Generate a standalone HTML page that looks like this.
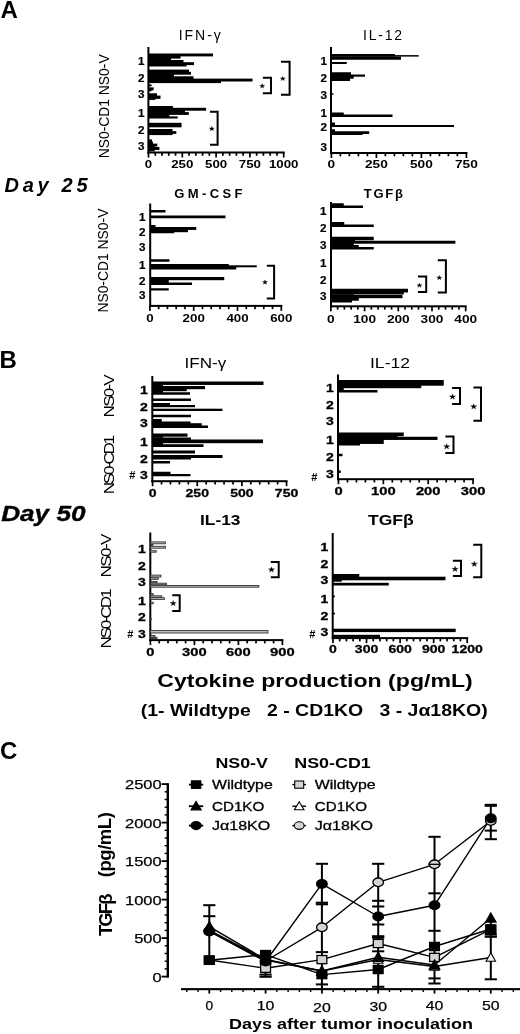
<!DOCTYPE html>
<html><head><meta charset="utf-8"><title>Figure</title>
<style>
html,body{margin:0;padding:0;background:#fff;}
body{width:520px;height:1034px;overflow:hidden;font-family:"Liberation Sans",sans-serif;}
svg{display:block;font-family:"Liberation Sans",sans-serif;filter:grayscale(100%);}
</style></head><body>
<svg width="520" height="1034" viewBox="0 0 520 1034">
<rect width="520" height="1034" fill="#fff"/>

<text x="0.40" y="18.10" font-size="24" font-weight="bold" text-anchor="start" fill="#000">A</text>
<text x="-0.50" y="368.00" font-size="24" font-weight="bold" text-anchor="start" fill="#000">B</text>
<text x="0.10" y="759.20" font-size="24" font-weight="bold" text-anchor="start" fill="#000">C</text>
<text x="4.50" y="191.80" font-size="20" font-weight="bold" text-anchor="start" fill="#000" font-style="italic" textLength="83.00" lengthAdjust="spacing">Day 25</text>
<text x="1.20" y="520.90" font-size="21.5" font-weight="bold" text-anchor="start" fill="#000" font-style="italic" textLength="84.30" lengthAdjust="spacingAndGlyphs" stroke="#000" stroke-width="0.35">Day 50</text>
<text x="108.90" y="158.30" font-size="15" font-weight="normal" text-anchor="start" fill="#000" textLength="104.00" lengthAdjust="spacingAndGlyphs" transform="rotate(-90 108.90 158.30)">NS0-CD1 NS0-V</text>
<text x="108.40" y="312.60" font-size="15" font-weight="normal" text-anchor="start" fill="#000" textLength="104.00" lengthAdjust="spacingAndGlyphs" transform="rotate(-90 108.40 312.60)">NS0-CD1 NS0-V</text>
<g transform="translate(113.90 417.40) rotate(-90) scale(1.13 1)"><text x="0" y="0" font-size="15.2" text-anchor="start" textLength="38.23" lengthAdjust="spacing">NS0-V</text></g>
<g transform="translate(113.90 494.20) rotate(-90) scale(1.13 1)"><text x="0" y="0" font-size="15.2" text-anchor="start" textLength="52.39" lengthAdjust="spacing">NS0-CD1</text></g>
<g transform="translate(111.00 577.40) rotate(-90) scale(1.13 1)"><text x="0" y="0" font-size="15.2" text-anchor="start" textLength="38.76" lengthAdjust="spacing">NS0-V</text></g>
<g transform="translate(111.00 648.60) rotate(-90) scale(1.13 1)"><text x="0" y="0" font-size="15.2" text-anchor="start" textLength="53.19" lengthAdjust="spacing">NS0-CD1</text></g>
<text x="141.20" y="64.56" font-size="11" font-weight="bold" text-anchor="middle" fill="#000" textLength="6.50" lengthAdjust="spacingAndGlyphs" stroke="#000" stroke-width="0.2">1</text>
<text x="141.20" y="81.66" font-size="11" font-weight="bold" text-anchor="middle" fill="#000" textLength="6.50" lengthAdjust="spacingAndGlyphs" stroke="#000" stroke-width="0.2">2</text>
<text x="141.20" y="97.96" font-size="11" font-weight="bold" text-anchor="middle" fill="#000" textLength="6.50" lengthAdjust="spacingAndGlyphs" stroke="#000" stroke-width="0.2">3</text>
<text x="141.20" y="116.96" font-size="11" font-weight="bold" text-anchor="middle" fill="#000" textLength="6.50" lengthAdjust="spacingAndGlyphs" stroke="#000" stroke-width="0.2">1</text>
<text x="141.20" y="133.96" font-size="11" font-weight="bold" text-anchor="middle" fill="#000" textLength="6.50" lengthAdjust="spacingAndGlyphs" stroke="#000" stroke-width="0.2">2</text>
<text x="141.20" y="150.26" font-size="11" font-weight="bold" text-anchor="middle" fill="#000" textLength="6.50" lengthAdjust="spacingAndGlyphs" stroke="#000" stroke-width="0.2">3</text>
<text x="323.80" y="64.86" font-size="11" font-weight="bold" text-anchor="middle" fill="#000" textLength="6.50" lengthAdjust="spacingAndGlyphs" stroke="#000" stroke-width="0.2">1</text>
<text x="323.80" y="82.46" font-size="11" font-weight="bold" text-anchor="middle" fill="#000" textLength="6.50" lengthAdjust="spacingAndGlyphs" stroke="#000" stroke-width="0.2">2</text>
<text x="323.80" y="98.56" font-size="11" font-weight="bold" text-anchor="middle" fill="#000" textLength="6.50" lengthAdjust="spacingAndGlyphs" stroke="#000" stroke-width="0.2">3</text>
<text x="323.80" y="117.06" font-size="11" font-weight="bold" text-anchor="middle" fill="#000" textLength="6.50" lengthAdjust="spacingAndGlyphs" stroke="#000" stroke-width="0.2">1</text>
<text x="323.80" y="130.76" font-size="11" font-weight="bold" text-anchor="middle" fill="#000" textLength="6.50" lengthAdjust="spacingAndGlyphs" stroke="#000" stroke-width="0.2">2</text>
<text x="323.80" y="150.96" font-size="11" font-weight="bold" text-anchor="middle" fill="#000" textLength="6.50" lengthAdjust="spacingAndGlyphs" stroke="#000" stroke-width="0.2">3</text>
<text x="142.30" y="220.96" font-size="11" font-weight="bold" text-anchor="middle" fill="#000" textLength="6.50" lengthAdjust="spacingAndGlyphs" stroke="#000" stroke-width="0.2">1</text>
<text x="142.30" y="236.46" font-size="11" font-weight="bold" text-anchor="middle" fill="#000" textLength="6.50" lengthAdjust="spacingAndGlyphs" stroke="#000" stroke-width="0.2">2</text>
<text x="142.30" y="251.46" font-size="11" font-weight="bold" text-anchor="middle" fill="#000" textLength="6.50" lengthAdjust="spacingAndGlyphs" stroke="#000" stroke-width="0.2">3</text>
<text x="142.30" y="268.66" font-size="11" font-weight="bold" text-anchor="middle" fill="#000" textLength="6.50" lengthAdjust="spacingAndGlyphs" stroke="#000" stroke-width="0.2">1</text>
<text x="142.30" y="284.56" font-size="11" font-weight="bold" text-anchor="middle" fill="#000" textLength="6.50" lengthAdjust="spacingAndGlyphs" stroke="#000" stroke-width="0.2">2</text>
<text x="142.30" y="299.16" font-size="11" font-weight="bold" text-anchor="middle" fill="#000" textLength="6.50" lengthAdjust="spacingAndGlyphs" stroke="#000" stroke-width="0.2">3</text>
<text x="323.30" y="215.26" font-size="11" font-weight="bold" text-anchor="middle" fill="#000" textLength="6.50" lengthAdjust="spacingAndGlyphs" stroke="#000" stroke-width="0.2">1</text>
<text x="323.30" y="231.56" font-size="11" font-weight="bold" text-anchor="middle" fill="#000" textLength="6.50" lengthAdjust="spacingAndGlyphs" stroke="#000" stroke-width="0.2">2</text>
<text x="323.30" y="248.56" font-size="11" font-weight="bold" text-anchor="middle" fill="#000" textLength="6.50" lengthAdjust="spacingAndGlyphs" stroke="#000" stroke-width="0.2">3</text>
<text x="323.30" y="267.26" font-size="11" font-weight="bold" text-anchor="middle" fill="#000" textLength="6.50" lengthAdjust="spacingAndGlyphs" stroke="#000" stroke-width="0.2">1</text>
<text x="323.30" y="283.86" font-size="11" font-weight="bold" text-anchor="middle" fill="#000" textLength="6.50" lengthAdjust="spacingAndGlyphs" stroke="#000" stroke-width="0.2">2</text>
<text x="323.30" y="300.16" font-size="11" font-weight="bold" text-anchor="middle" fill="#000" textLength="6.50" lengthAdjust="spacingAndGlyphs" stroke="#000" stroke-width="0.2">3</text>
<text x="144.00" y="393.56" font-size="11" font-weight="bold" text-anchor="middle" fill="#000" textLength="7.80" lengthAdjust="spacingAndGlyphs" stroke="#000" stroke-width="0.3">1</text>
<text x="144.00" y="410.56" font-size="11" font-weight="bold" text-anchor="middle" fill="#000" textLength="7.80" lengthAdjust="spacingAndGlyphs" stroke="#000" stroke-width="0.3">2</text>
<text x="144.00" y="427.06" font-size="11" font-weight="bold" text-anchor="middle" fill="#000" textLength="7.80" lengthAdjust="spacingAndGlyphs" stroke="#000" stroke-width="0.3">3</text>
<text x="144.00" y="445.86" font-size="11" font-weight="bold" text-anchor="middle" fill="#000" textLength="7.80" lengthAdjust="spacingAndGlyphs" stroke="#000" stroke-width="0.3">1</text>
<text x="144.00" y="462.76" font-size="11" font-weight="bold" text-anchor="middle" fill="#000" textLength="7.80" lengthAdjust="spacingAndGlyphs" stroke="#000" stroke-width="0.3">2</text>
<text x="144.00" y="479.46" font-size="11" font-weight="bold" text-anchor="middle" fill="#000" textLength="7.80" lengthAdjust="spacingAndGlyphs" stroke="#000" stroke-width="0.3">3</text>
<text x="329.90" y="392.06" font-size="11" font-weight="bold" text-anchor="middle" fill="#000" textLength="7.80" lengthAdjust="spacingAndGlyphs" stroke="#000" stroke-width="0.3">1</text>
<text x="329.90" y="409.26" font-size="11" font-weight="bold" text-anchor="middle" fill="#000" textLength="7.80" lengthAdjust="spacingAndGlyphs" stroke="#000" stroke-width="0.3">2</text>
<text x="329.90" y="425.36" font-size="11" font-weight="bold" text-anchor="middle" fill="#000" textLength="7.80" lengthAdjust="spacingAndGlyphs" stroke="#000" stroke-width="0.3">3</text>
<text x="329.90" y="444.06" font-size="11" font-weight="bold" text-anchor="middle" fill="#000" textLength="7.80" lengthAdjust="spacingAndGlyphs" stroke="#000" stroke-width="0.3">1</text>
<text x="329.90" y="461.46" font-size="11" font-weight="bold" text-anchor="middle" fill="#000" textLength="7.80" lengthAdjust="spacingAndGlyphs" stroke="#000" stroke-width="0.3">2</text>
<text x="329.90" y="477.56" font-size="11" font-weight="bold" text-anchor="middle" fill="#000" textLength="7.80" lengthAdjust="spacingAndGlyphs" stroke="#000" stroke-width="0.3">3</text>
<text x="141.80" y="553.36" font-size="11" font-weight="bold" text-anchor="middle" fill="#000" textLength="7.80" lengthAdjust="spacingAndGlyphs" stroke="#000" stroke-width="0.3">1</text>
<text x="141.80" y="569.76" font-size="11" font-weight="bold" text-anchor="middle" fill="#000" textLength="7.80" lengthAdjust="spacingAndGlyphs" stroke="#000" stroke-width="0.3">2</text>
<text x="141.80" y="586.16" font-size="11" font-weight="bold" text-anchor="middle" fill="#000" textLength="7.80" lengthAdjust="spacingAndGlyphs" stroke="#000" stroke-width="0.3">3</text>
<text x="141.80" y="604.76" font-size="11" font-weight="bold" text-anchor="middle" fill="#000" textLength="7.80" lengthAdjust="spacingAndGlyphs" stroke="#000" stroke-width="0.3">1</text>
<text x="141.80" y="621.46" font-size="11" font-weight="bold" text-anchor="middle" fill="#000" textLength="7.80" lengthAdjust="spacingAndGlyphs" stroke="#000" stroke-width="0.3">2</text>
<text x="141.80" y="637.56" font-size="11" font-weight="bold" text-anchor="middle" fill="#000" textLength="7.80" lengthAdjust="spacingAndGlyphs" stroke="#000" stroke-width="0.3">3</text>
<text x="324.30" y="550.76" font-size="11" font-weight="bold" text-anchor="middle" fill="#000" textLength="7.80" lengthAdjust="spacingAndGlyphs" stroke="#000" stroke-width="0.3">1</text>
<text x="324.30" y="567.96" font-size="11" font-weight="bold" text-anchor="middle" fill="#000" textLength="7.80" lengthAdjust="spacingAndGlyphs" stroke="#000" stroke-width="0.3">2</text>
<text x="324.30" y="584.46" font-size="11" font-weight="bold" text-anchor="middle" fill="#000" textLength="7.80" lengthAdjust="spacingAndGlyphs" stroke="#000" stroke-width="0.3">3</text>
<text x="324.30" y="603.06" font-size="11" font-weight="bold" text-anchor="middle" fill="#000" textLength="7.80" lengthAdjust="spacingAndGlyphs" stroke="#000" stroke-width="0.3">1</text>
<text x="324.30" y="619.66" font-size="11" font-weight="bold" text-anchor="middle" fill="#000" textLength="7.80" lengthAdjust="spacingAndGlyphs" stroke="#000" stroke-width="0.3">2</text>
<text x="324.30" y="636.46" font-size="11" font-weight="bold" text-anchor="middle" fill="#000" textLength="7.80" lengthAdjust="spacingAndGlyphs" stroke="#000" stroke-width="0.3">3</text>
<text x="132.20" y="479.30" font-size="11" font-weight="bold" text-anchor="middle" fill="#000">#</text>
<text x="314.20" y="480.60" font-size="11" font-weight="bold" text-anchor="middle" fill="#000">#</text>
<text x="130.30" y="637.50" font-size="11" font-weight="bold" text-anchor="middle" fill="#000">#</text>
<text x="312.40" y="637.50" font-size="11" font-weight="bold" text-anchor="middle" fill="#000">#</text>
<text x="199.75" y="39.70" font-size="14" font-weight="normal" text-anchor="middle" fill="#000" textLength="42.00" lengthAdjust="spacing">IFN-&#947;</text>
<text x="382.50" y="39.70" font-size="14" font-weight="normal" text-anchor="middle" fill="#000" textLength="39.00" lengthAdjust="spacing">IL-12</text>
<text x="208.40" y="197.60" font-size="13" font-weight="bold" text-anchor="middle" fill="#000" textLength="68.30" lengthAdjust="spacing">GM-CSF</text>
<text x="383.40" y="197.60" font-size="13" font-weight="bold" text-anchor="middle" fill="#000" textLength="39.20" lengthAdjust="spacing">TGF&#946;</text>
<text x="205.40" y="368.00" font-size="14" font-weight="normal" text-anchor="middle" fill="#000" textLength="41.75" lengthAdjust="spacingAndGlyphs">IFN-&#947;</text>
<text x="390.00" y="368.30" font-size="14" font-weight="normal" text-anchor="middle" fill="#000" textLength="40.00" lengthAdjust="spacingAndGlyphs">IL-12</text>
<text x="220.25" y="525.40" font-size="14.5" font-weight="bold" text-anchor="middle" fill="#000" textLength="40.50" lengthAdjust="spacingAndGlyphs">IL-13</text>
<text x="390.90" y="525.00" font-size="14.5" font-weight="bold" text-anchor="middle" fill="#000" textLength="45.75" lengthAdjust="spacingAndGlyphs">TGF&#946;</text>
<rect x="147.40" y="47.00" width="2.00" height="106.50" fill="#000" />
<rect x="147.40" y="151.50" width="137.30" height="2.00" fill="#000" />
<rect x="147.65" y="152.50" width="1.70" height="5.00" fill="#000" />
<rect x="154.41" y="152.50" width="1.70" height="3.30" fill="#000" />
<rect x="161.17" y="152.50" width="1.70" height="3.30" fill="#000" />
<rect x="167.93" y="152.50" width="1.70" height="3.30" fill="#000" />
<rect x="174.69" y="152.50" width="1.70" height="3.30" fill="#000" />
<rect x="181.45" y="152.50" width="1.70" height="5.00" fill="#000" />
<rect x="188.21" y="152.50" width="1.70" height="3.30" fill="#000" />
<rect x="194.97" y="152.50" width="1.70" height="3.30" fill="#000" />
<rect x="201.73" y="152.50" width="1.70" height="3.30" fill="#000" />
<rect x="208.49" y="152.50" width="1.70" height="3.30" fill="#000" />
<rect x="215.25" y="152.50" width="1.70" height="5.00" fill="#000" />
<rect x="222.01" y="152.50" width="1.70" height="3.30" fill="#000" />
<rect x="228.77" y="152.50" width="1.70" height="3.30" fill="#000" />
<rect x="235.53" y="152.50" width="1.70" height="3.30" fill="#000" />
<rect x="242.29" y="152.50" width="1.70" height="3.30" fill="#000" />
<rect x="249.05" y="152.50" width="1.70" height="5.00" fill="#000" />
<rect x="255.81" y="152.50" width="1.70" height="3.30" fill="#000" />
<rect x="262.57" y="152.50" width="1.70" height="3.30" fill="#000" />
<rect x="269.33" y="152.50" width="1.70" height="3.30" fill="#000" />
<rect x="276.09" y="152.50" width="1.70" height="3.30" fill="#000" />
<rect x="282.85" y="152.50" width="1.70" height="5.00" fill="#000" />
<text x="148.50" y="168.20" font-size="11.5" font-weight="bold" text-anchor="middle" fill="#000" textLength="7.40" lengthAdjust="spacingAndGlyphs">0</text>
<text x="182.30" y="168.20" font-size="11.5" font-weight="bold" text-anchor="middle" fill="#000" textLength="22.20" lengthAdjust="spacingAndGlyphs">250</text>
<text x="216.10" y="168.20" font-size="11.5" font-weight="bold" text-anchor="middle" fill="#000" textLength="22.20" lengthAdjust="spacingAndGlyphs">500</text>
<text x="249.90" y="168.20" font-size="11.5" font-weight="bold" text-anchor="middle" fill="#000" textLength="22.20" lengthAdjust="spacingAndGlyphs">750</text>
<text x="283.70" y="168.20" font-size="11.5" font-weight="bold" text-anchor="middle" fill="#000" textLength="29.60" lengthAdjust="spacingAndGlyphs">1000</text>
<rect x="148.40" y="53.50" width="64.60" height="2.90" fill="#000" />
<rect x="148.40" y="55.70" width="32.10" height="2.90" fill="#000" />
<rect x="148.40" y="57.90" width="22.60" height="2.80" fill="#000" />
<rect x="148.40" y="60.00" width="35.10" height="2.90" fill="#000" />
<rect x="148.40" y="62.20" width="45.60" height="2.90" fill="#000" />
<rect x="148.40" y="64.40" width="38.10" height="2.10" fill="#000" />
<rect x="148.40" y="69.60" width="40.60" height="2.90" fill="#000" />
<rect x="148.40" y="71.80" width="42.60" height="2.90" fill="#000" />
<rect x="148.40" y="74.00" width="25.60" height="3.00" fill="#000" />
<rect x="148.40" y="76.30" width="45.10" height="3.00" fill="#000" />
<rect x="148.40" y="78.60" width="104.10" height="2.90" fill="#000" />
<rect x="148.40" y="80.80" width="72.60" height="2.30" fill="#000" />
<rect x="148.40" y="84.30" width="3.10" height="2.10" fill="#000" />
<rect x="148.40" y="87.40" width="5.20" height="2.90" fill="#000" />
<rect x="148.40" y="89.60" width="3.10" height="1.70" fill="#000" />
<rect x="148.40" y="93.30" width="8.60" height="3.00" fill="#000" />
<rect x="148.40" y="95.60" width="12.10" height="3.30" fill="#000" />
<rect x="148.40" y="98.20" width="7.00" height="1.70" fill="#000" />
<rect x="148.40" y="106.00" width="24.50" height="2.20" fill="#000" />
<rect x="148.40" y="107.80" width="57.70" height="2.90" fill="#000" />
<rect x="148.40" y="110.00" width="36.60" height="2.80" fill="#000" />
<rect x="148.40" y="112.10" width="40.40" height="2.80" fill="#000" />
<rect x="148.40" y="114.20" width="21.00" height="2.90" fill="#000" />
<rect x="148.40" y="116.40" width="29.30" height="2.10" fill="#000" />
<rect x="148.40" y="122.80" width="33.10" height="3.00" fill="#000" />
<rect x="148.40" y="125.10" width="33.10" height="2.20" fill="#000" />
<rect x="148.40" y="129.00" width="24.10" height="2.80" fill="#000" />
<rect x="148.40" y="131.10" width="27.90" height="2.80" fill="#000" />
<rect x="148.40" y="133.20" width="24.10" height="1.90" fill="#000" />
<rect x="148.40" y="139.40" width="3.60" height="2.80" fill="#000" />
<rect x="148.40" y="141.50" width="4.60" height="2.80" fill="#000" />
<rect x="148.40" y="143.60" width="8.90" height="2.90" fill="#000" />
<rect x="148.40" y="145.80" width="6.30" height="2.10" fill="#000" />
<rect x="148.40" y="147.00" width="11.00" height="3.00" fill="#000" />
<rect x="148.40" y="149.30" width="6.30" height="2.10" fill="#000" />
<path d="M262.90 77.70H271.00V93.20H262.90" fill="none" stroke="#000" stroke-width="2.0" stroke-linejoin="miter"/>
<polygon points="262.20,83.67 262.82,85.30 264.77,85.32 263.20,86.34 263.79,87.97 262.20,86.97 260.61,87.97 261.20,86.34 259.63,85.32 261.58,85.30" fill="#000" stroke="#000" stroke-width="0.3"/>
<path d="M281.00 61.80H289.60V94.70H281.00" fill="none" stroke="#000" stroke-width="2.0" stroke-linejoin="miter"/>
<polygon points="282.80,76.27 283.42,77.90 285.37,77.92 283.80,78.94 284.39,80.57 282.80,79.57 281.21,80.57 281.80,78.94 280.23,77.92 282.18,77.90" fill="#000" stroke="#000" stroke-width="0.3"/>
<path d="M210.00 111.70H217.60V144.80H210.00" fill="none" stroke="#000" stroke-width="2.0" stroke-linejoin="miter"/>
<polygon points="211.80,126.37 212.42,128.00 214.37,128.02 212.80,129.04 213.39,130.67 211.80,129.67 210.21,130.67 210.80,129.04 209.23,128.02 211.18,128.00" fill="#000" stroke="#000" stroke-width="0.3"/>
<rect x="330.00" y="47.00" width="2.00" height="107.00" fill="#000" />
<rect x="330.00" y="152.00" width="137.40" height="2.00" fill="#000" />
<rect x="330.55" y="153.00" width="1.70" height="5.00" fill="#000" />
<rect x="339.55" y="153.00" width="1.70" height="3.30" fill="#000" />
<rect x="348.55" y="153.00" width="1.70" height="3.30" fill="#000" />
<rect x="357.55" y="153.00" width="1.70" height="3.30" fill="#000" />
<rect x="366.55" y="153.00" width="1.70" height="3.30" fill="#000" />
<rect x="375.55" y="153.00" width="1.70" height="5.00" fill="#000" />
<rect x="384.55" y="153.00" width="1.70" height="3.30" fill="#000" />
<rect x="393.55" y="153.00" width="1.70" height="3.30" fill="#000" />
<rect x="402.55" y="153.00" width="1.70" height="3.30" fill="#000" />
<rect x="411.55" y="153.00" width="1.70" height="3.30" fill="#000" />
<rect x="420.55" y="153.00" width="1.70" height="5.00" fill="#000" />
<rect x="429.55" y="153.00" width="1.70" height="3.30" fill="#000" />
<rect x="438.55" y="153.00" width="1.70" height="3.30" fill="#000" />
<rect x="447.55" y="153.00" width="1.70" height="3.30" fill="#000" />
<rect x="456.55" y="153.00" width="1.70" height="3.30" fill="#000" />
<rect x="465.55" y="153.00" width="1.70" height="5.00" fill="#000" />
<text x="331.40" y="168.00" font-size="11.5" font-weight="bold" text-anchor="middle" fill="#000" textLength="7.60" lengthAdjust="spacingAndGlyphs">0</text>
<text x="376.40" y="168.00" font-size="11.5" font-weight="bold" text-anchor="middle" fill="#000" textLength="22.80" lengthAdjust="spacingAndGlyphs">250</text>
<text x="421.40" y="168.00" font-size="11.5" font-weight="bold" text-anchor="middle" fill="#000" textLength="22.80" lengthAdjust="spacingAndGlyphs">500</text>
<text x="466.40" y="168.00" font-size="11.5" font-weight="bold" text-anchor="middle" fill="#000" textLength="22.80" lengthAdjust="spacingAndGlyphs">750</text>
<rect x="331.00" y="54.00" width="64.00" height="2.50" fill="#000" />
<rect x="331.00" y="55.10" width="87.75" height="1.50" fill="#000" />
<rect x="331.00" y="56.50" width="70.00" height="3.25" fill="#000" />
<rect x="331.00" y="62.00" width="15.75" height="2.00" fill="#000" />
<rect x="331.00" y="72.25" width="20.00" height="2.95" fill="#000" />
<rect x="331.00" y="74.50" width="34.00" height="2.20" fill="#000" />
<rect x="331.00" y="76.00" width="22.75" height="2.70" fill="#000" />
<rect x="331.00" y="78.00" width="19.00" height="3.00" fill="#000" />
<rect x="331.00" y="93.30" width="2.50" height="1.40" fill="#000" />
<rect x="331.00" y="112.50" width="12.75" height="2.70" fill="#000" />
<rect x="331.00" y="114.50" width="61.50" height="2.50" fill="#000" />
<rect x="331.00" y="122.50" width="4.00" height="3.20" fill="#000" />
<rect x="331.00" y="125.00" width="123.00" height="2.00" fill="#000" />
<rect x="331.00" y="129.25" width="4.00" height="2.70" fill="#000" />
<rect x="331.00" y="131.25" width="38.25" height="2.70" fill="#000" />
<rect x="331.00" y="133.25" width="31.50" height="1.75" fill="#000" />
<rect x="149.20" y="203.50" width="2.00" height="103.40" fill="#000" />
<rect x="149.20" y="304.90" width="133.10" height="2.00" fill="#000" />
<rect x="149.05" y="305.90" width="1.70" height="5.00" fill="#000" />
<rect x="157.81" y="305.90" width="1.70" height="3.30" fill="#000" />
<rect x="166.57" y="305.90" width="1.70" height="3.30" fill="#000" />
<rect x="175.33" y="305.90" width="1.70" height="3.30" fill="#000" />
<rect x="184.09" y="305.90" width="1.70" height="3.30" fill="#000" />
<rect x="192.85" y="305.90" width="1.70" height="5.00" fill="#000" />
<rect x="201.61" y="305.90" width="1.70" height="3.30" fill="#000" />
<rect x="210.37" y="305.90" width="1.70" height="3.30" fill="#000" />
<rect x="219.13" y="305.90" width="1.70" height="3.30" fill="#000" />
<rect x="227.89" y="305.90" width="1.70" height="3.30" fill="#000" />
<rect x="236.65" y="305.90" width="1.70" height="5.00" fill="#000" />
<rect x="245.41" y="305.90" width="1.70" height="3.30" fill="#000" />
<rect x="254.17" y="305.90" width="1.70" height="3.30" fill="#000" />
<rect x="262.93" y="305.90" width="1.70" height="3.30" fill="#000" />
<rect x="271.69" y="305.90" width="1.70" height="3.30" fill="#000" />
<rect x="280.45" y="305.90" width="1.70" height="5.00" fill="#000" />
<text x="149.90" y="322.10" font-size="11.5" font-weight="bold" text-anchor="middle" fill="#000" textLength="7.40" lengthAdjust="spacingAndGlyphs">0</text>
<text x="193.70" y="322.10" font-size="11.5" font-weight="bold" text-anchor="middle" fill="#000" textLength="22.20" lengthAdjust="spacingAndGlyphs">200</text>
<text x="237.50" y="322.10" font-size="11.5" font-weight="bold" text-anchor="middle" fill="#000" textLength="22.20" lengthAdjust="spacingAndGlyphs">400</text>
<text x="281.30" y="322.10" font-size="11.5" font-weight="bold" text-anchor="middle" fill="#000" textLength="22.20" lengthAdjust="spacingAndGlyphs">600</text>
<rect x="150.20" y="210.00" width="15.30" height="2.50" fill="#000" />
<rect x="150.20" y="215.50" width="75.30" height="2.75" fill="#000" />
<rect x="150.20" y="225.00" width="5.30" height="2.70" fill="#000" />
<rect x="150.20" y="227.00" width="46.05" height="2.95" fill="#000" />
<rect x="150.20" y="229.25" width="37.80" height="2.95" fill="#000" />
<rect x="150.20" y="231.50" width="24.05" height="1.75" fill="#000" />
<rect x="150.20" y="259.25" width="19.30" height="2.50" fill="#000" />
<rect x="150.20" y="264.00" width="78.55" height="2.50" fill="#000" />
<rect x="150.20" y="265.30" width="106.55" height="2.00" fill="#000" />
<rect x="150.20" y="267.00" width="86.05" height="2.50" fill="#000" />
<rect x="150.20" y="277.00" width="74.05" height="3.20" fill="#000" />
<rect x="150.20" y="279.50" width="18.55" height="3.70" fill="#000" />
<rect x="150.20" y="282.50" width="41.80" height="2.50" fill="#000" />
<rect x="150.20" y="288.25" width="18.55" height="2.25" fill="#000" />
<path d="M266.80 265.80H274.10V298.40H266.80" fill="none" stroke="#000" stroke-width="2.0" stroke-linejoin="miter"/>
<polygon points="265.00,279.87 265.62,281.50 267.57,281.52 266.00,282.54 266.59,284.17 265.00,283.17 263.41,284.17 264.00,282.54 262.43,281.52 264.38,281.50" fill="#000" stroke="#000" stroke-width="0.3"/>
<rect x="330.00" y="202.00" width="2.00" height="105.30" fill="#000" />
<rect x="330.00" y="305.30" width="136.70" height="2.00" fill="#000" />
<rect x="330.05" y="306.30" width="1.70" height="5.00" fill="#000" />
<rect x="336.79" y="306.30" width="1.70" height="3.30" fill="#000" />
<rect x="343.53" y="306.30" width="1.70" height="3.30" fill="#000" />
<rect x="350.27" y="306.30" width="1.70" height="3.30" fill="#000" />
<rect x="357.01" y="306.30" width="1.70" height="3.30" fill="#000" />
<rect x="363.75" y="306.30" width="1.70" height="5.00" fill="#000" />
<rect x="370.49" y="306.30" width="1.70" height="3.30" fill="#000" />
<rect x="377.23" y="306.30" width="1.70" height="3.30" fill="#000" />
<rect x="383.97" y="306.30" width="1.70" height="3.30" fill="#000" />
<rect x="390.71" y="306.30" width="1.70" height="3.30" fill="#000" />
<rect x="397.45" y="306.30" width="1.70" height="5.00" fill="#000" />
<rect x="404.19" y="306.30" width="1.70" height="3.30" fill="#000" />
<rect x="410.93" y="306.30" width="1.70" height="3.30" fill="#000" />
<rect x="417.67" y="306.30" width="1.70" height="3.30" fill="#000" />
<rect x="424.41" y="306.30" width="1.70" height="3.30" fill="#000" />
<rect x="431.15" y="306.30" width="1.70" height="5.00" fill="#000" />
<rect x="437.89" y="306.30" width="1.70" height="3.30" fill="#000" />
<rect x="444.63" y="306.30" width="1.70" height="3.30" fill="#000" />
<rect x="451.37" y="306.30" width="1.70" height="3.30" fill="#000" />
<rect x="458.11" y="306.30" width="1.70" height="3.30" fill="#000" />
<rect x="464.85" y="306.30" width="1.70" height="5.00" fill="#000" />
<text x="330.90" y="322.80" font-size="11.5" font-weight="bold" text-anchor="middle" fill="#000" textLength="7.60" lengthAdjust="spacingAndGlyphs">0</text>
<text x="364.60" y="322.80" font-size="11.5" font-weight="bold" text-anchor="middle" fill="#000" textLength="22.80" lengthAdjust="spacingAndGlyphs">100</text>
<text x="398.30" y="322.80" font-size="11.5" font-weight="bold" text-anchor="middle" fill="#000" textLength="22.80" lengthAdjust="spacingAndGlyphs">200</text>
<text x="432.00" y="322.80" font-size="11.5" font-weight="bold" text-anchor="middle" fill="#000" textLength="22.80" lengthAdjust="spacingAndGlyphs">300</text>
<text x="465.70" y="322.80" font-size="11.5" font-weight="bold" text-anchor="middle" fill="#000" textLength="22.80" lengthAdjust="spacingAndGlyphs">400</text>
<rect x="331.00" y="203.25" width="12.75" height="2.95" fill="#000" />
<rect x="331.00" y="205.50" width="32.00" height="2.50" fill="#000" />
<rect x="331.00" y="222.00" width="13.25" height="3.20" fill="#000" />
<rect x="331.00" y="224.50" width="42.75" height="2.50" fill="#000" />
<rect x="331.00" y="236.75" width="42.75" height="3.45" fill="#000" />
<rect x="331.00" y="239.50" width="24.00" height="2.00" fill="#000" />
<rect x="331.00" y="240.75" width="124.40" height="2.95" fill="#000" />
<rect x="331.00" y="243.00" width="22.75" height="2.70" fill="#000" />
<rect x="331.00" y="245.00" width="27.75" height="2.70" fill="#000" />
<rect x="331.00" y="247.00" width="42.75" height="2.50" fill="#000" />
<rect x="331.00" y="288.75" width="77.00" height="3.70" fill="#000" />
<rect x="331.00" y="291.75" width="72.75" height="2.75" fill="#000" />
<rect x="331.00" y="294.20" width="22.75" height="1.00" fill="#000" />
<rect x="331.00" y="295.00" width="71.50" height="3.20" fill="#000" />
<rect x="331.00" y="297.50" width="27.75" height="3.20" fill="#000" />
<rect x="331.00" y="300.00" width="21.00" height="2.50" fill="#000" />
<path d="M417.90 276.60H426.20V291.90H417.90" fill="none" stroke="#000" stroke-width="2.0" stroke-linejoin="miter"/>
<polygon points="419.50,283.07 420.12,284.70 422.07,284.72 420.50,285.74 421.09,287.37 419.50,286.37 417.91,287.37 418.50,285.74 416.93,284.72 418.88,284.70" fill="#000" stroke="#000" stroke-width="0.3"/>
<path d="M437.80 260.20H445.90V292.60H437.80" fill="none" stroke="#000" stroke-width="2.0" stroke-linejoin="miter"/>
<polygon points="439.30,275.37 439.92,277.00 441.87,277.02 440.30,278.04 440.89,279.67 439.30,278.67 437.71,279.67 438.30,278.04 436.73,277.02 438.68,277.00" fill="#000" stroke="#000" stroke-width="0.3"/>
<rect x="151.30" y="376.00" width="2.00" height="106.20" fill="#000" />
<rect x="151.30" y="480.20" width="136.25" height="2.00" fill="#000" />
<rect x="151.75" y="481.20" width="1.70" height="5.00" fill="#000" />
<rect x="160.68" y="481.20" width="1.70" height="3.30" fill="#000" />
<rect x="169.61" y="481.20" width="1.70" height="3.30" fill="#000" />
<rect x="178.54" y="481.20" width="1.70" height="3.30" fill="#000" />
<rect x="187.47" y="481.20" width="1.70" height="3.30" fill="#000" />
<rect x="196.40" y="481.20" width="1.70" height="5.00" fill="#000" />
<rect x="205.33" y="481.20" width="1.70" height="3.30" fill="#000" />
<rect x="214.26" y="481.20" width="1.70" height="3.30" fill="#000" />
<rect x="223.19" y="481.20" width="1.70" height="3.30" fill="#000" />
<rect x="232.12" y="481.20" width="1.70" height="3.30" fill="#000" />
<rect x="241.05" y="481.20" width="1.70" height="5.00" fill="#000" />
<rect x="249.98" y="481.20" width="1.70" height="3.30" fill="#000" />
<rect x="258.91" y="481.20" width="1.70" height="3.30" fill="#000" />
<rect x="267.84" y="481.20" width="1.70" height="3.30" fill="#000" />
<rect x="276.77" y="481.20" width="1.70" height="3.30" fill="#000" />
<rect x="285.70" y="481.20" width="1.70" height="5.00" fill="#000" />
<text x="152.60" y="497.40" font-size="11.5" font-weight="bold" text-anchor="middle" fill="#000" textLength="7.80" lengthAdjust="spacingAndGlyphs" stroke="#000" stroke-width="0.3">0</text>
<text x="197.25" y="497.40" font-size="11.5" font-weight="bold" text-anchor="middle" fill="#000" textLength="23.40" lengthAdjust="spacingAndGlyphs" stroke="#000" stroke-width="0.3">250</text>
<text x="241.90" y="497.40" font-size="11.5" font-weight="bold" text-anchor="middle" fill="#000" textLength="23.40" lengthAdjust="spacingAndGlyphs" stroke="#000" stroke-width="0.3">500</text>
<text x="286.55" y="497.40" font-size="11.5" font-weight="bold" text-anchor="middle" fill="#000" textLength="23.40" lengthAdjust="spacingAndGlyphs" stroke="#000" stroke-width="0.3">750</text>
<rect x="152.30" y="381.50" width="111.20" height="3.45" fill="#000" />
<rect x="152.30" y="384.25" width="10.70" height="2.45" fill="#000" />
<rect x="152.30" y="386.00" width="52.70" height="3.20" fill="#000" />
<rect x="152.30" y="388.50" width="34.45" height="2.70" fill="#000" />
<rect x="152.30" y="390.50" width="10.70" height="2.45" fill="#000" />
<rect x="152.30" y="392.25" width="37.70" height="2.50" fill="#000" />
<rect x="152.30" y="398.50" width="38.70" height="2.50" fill="#000" />
<rect x="152.30" y="403.00" width="17.70" height="2.70" fill="#000" />
<rect x="152.30" y="405.00" width="42.70" height="2.20" fill="#000" />
<rect x="152.30" y="408.70" width="70.20" height="2.30" fill="#000" />
<rect x="152.30" y="414.75" width="38.70" height="2.50" fill="#000" />
<rect x="152.30" y="419.00" width="9.45" height="3.20" fill="#000" />
<rect x="152.30" y="421.50" width="38.20" height="2.40" fill="#000" />
<rect x="152.30" y="423.20" width="49.45" height="3.00" fill="#000" />
<rect x="152.30" y="425.50" width="55.70" height="2.50" fill="#000" />
<rect x="152.30" y="433.50" width="35.20" height="3.20" fill="#000" />
<rect x="152.30" y="436.00" width="10.70" height="1.80" fill="#000" />
<rect x="152.30" y="437.50" width="38.70" height="2.70" fill="#000" />
<rect x="152.30" y="439.50" width="110.70" height="3.70" fill="#000" />
<rect x="152.30" y="442.50" width="10.70" height="2.45" fill="#000" />
<rect x="152.30" y="444.25" width="51.20" height="2.75" fill="#000" />
<rect x="152.30" y="450.50" width="42.70" height="3.00" fill="#000" />
<rect x="152.30" y="455.00" width="70.20" height="3.00" fill="#000" />
<rect x="152.30" y="457.30" width="38.70" height="2.20" fill="#000" />
<rect x="152.30" y="461.00" width="17.70" height="2.50" fill="#000" />
<rect x="152.30" y="471.75" width="18.20" height="2.95" fill="#000" />
<rect x="152.30" y="474.00" width="38.20" height="2.25" fill="#000" />
<rect x="337.00" y="374.50" width="2.00" height="105.70" fill="#000" />
<rect x="337.00" y="478.20" width="137.05" height="2.00" fill="#000" />
<rect x="337.65" y="479.20" width="1.70" height="5.00" fill="#000" />
<rect x="346.62" y="479.20" width="1.70" height="3.30" fill="#000" />
<rect x="355.59" y="479.20" width="1.70" height="3.30" fill="#000" />
<rect x="364.56" y="479.20" width="1.70" height="3.30" fill="#000" />
<rect x="373.53" y="479.20" width="1.70" height="3.30" fill="#000" />
<rect x="382.50" y="479.20" width="1.70" height="5.00" fill="#000" />
<rect x="391.47" y="479.20" width="1.70" height="3.30" fill="#000" />
<rect x="400.44" y="479.20" width="1.70" height="3.30" fill="#000" />
<rect x="409.41" y="479.20" width="1.70" height="3.30" fill="#000" />
<rect x="418.38" y="479.20" width="1.70" height="3.30" fill="#000" />
<rect x="427.35" y="479.20" width="1.70" height="5.00" fill="#000" />
<rect x="436.32" y="479.20" width="1.70" height="3.30" fill="#000" />
<rect x="445.29" y="479.20" width="1.70" height="3.30" fill="#000" />
<rect x="454.26" y="479.20" width="1.70" height="3.30" fill="#000" />
<rect x="463.23" y="479.20" width="1.70" height="3.30" fill="#000" />
<rect x="472.20" y="479.20" width="1.70" height="5.00" fill="#000" />
<text x="338.50" y="495.00" font-size="11.5" font-weight="bold" text-anchor="middle" fill="#000" textLength="8.20" lengthAdjust="spacingAndGlyphs" stroke="#000" stroke-width="0.3">0</text>
<text x="383.35" y="495.00" font-size="11.5" font-weight="bold" text-anchor="middle" fill="#000" textLength="24.60" lengthAdjust="spacingAndGlyphs" stroke="#000" stroke-width="0.3">100</text>
<text x="428.20" y="495.00" font-size="11.5" font-weight="bold" text-anchor="middle" fill="#000" textLength="24.60" lengthAdjust="spacingAndGlyphs" stroke="#000" stroke-width="0.3">200</text>
<text x="473.05" y="495.00" font-size="11.5" font-weight="bold" text-anchor="middle" fill="#000" textLength="24.60" lengthAdjust="spacingAndGlyphs" stroke="#000" stroke-width="0.3">300</text>
<rect x="338.00" y="380.00" width="105.75" height="5.70" fill="#000" />
<rect x="338.00" y="385.00" width="83.25" height="3.20" fill="#000" />
<rect x="338.00" y="387.50" width="5.75" height="3.20" fill="#000" />
<rect x="338.00" y="390.00" width="39.50" height="2.50" fill="#000" />
<rect x="338.00" y="432.50" width="65.75" height="3.70" fill="#000" />
<rect x="338.00" y="435.50" width="59.50" height="2.00" fill="#000" />
<rect x="338.00" y="436.75" width="99.50" height="3.20" fill="#000" />
<rect x="338.00" y="439.25" width="45.75" height="4.70" fill="#000" />
<rect x="338.00" y="443.25" width="22.00" height="2.25" fill="#000" />
<rect x="338.00" y="453.75" width="4.50" height="2.50" fill="#000" />
<rect x="338.00" y="470.50" width="2.75" height="2.50" fill="#000" />
<path d="M452.10 388.10H460.00V404.00H452.10" fill="none" stroke="#000" stroke-width="2.0" stroke-linejoin="miter"/>
<polygon points="452.50,393.95 453.23,395.96 455.64,395.95 453.69,397.19 454.44,399.20 452.50,397.95 450.56,399.20 451.31,397.19 449.36,395.95 451.77,395.96" fill="#000" stroke="#000" stroke-width="0.3"/>
<path d="M473.40 387.50H481.00V420.70H473.40" fill="none" stroke="#000" stroke-width="2.0" stroke-linejoin="miter"/>
<polygon points="473.70,403.75 474.43,405.76 476.84,405.75 474.89,406.99 475.64,409.00 473.70,407.75 471.76,409.00 472.51,406.99 470.56,405.75 472.97,405.76" fill="#000" stroke="#000" stroke-width="0.3"/>
<path d="M445.40 436.60H453.50V453.10H445.40" fill="none" stroke="#000" stroke-width="2.0" stroke-linejoin="miter"/>
<polygon points="446.70,443.65 447.43,445.66 449.84,445.65 447.89,446.89 448.64,448.90 446.70,447.65 444.76,448.90 445.51,446.89 443.56,445.65 445.97,445.66" fill="#000" stroke="#000" stroke-width="0.3"/>
<rect x="149.30" y="532.50" width="2.00" height="108.60" fill="#000" />
<rect x="149.30" y="639.10" width="134.10" height="2.00" fill="#000" />
<rect x="149.55" y="640.10" width="1.70" height="5.00" fill="#000" />
<rect x="158.35" y="640.10" width="1.70" height="3.30" fill="#000" />
<rect x="167.15" y="640.10" width="1.70" height="3.30" fill="#000" />
<rect x="175.95" y="640.10" width="1.70" height="3.30" fill="#000" />
<rect x="184.75" y="640.10" width="1.70" height="3.30" fill="#000" />
<rect x="193.55" y="640.10" width="1.70" height="5.00" fill="#000" />
<rect x="202.35" y="640.10" width="1.70" height="3.30" fill="#000" />
<rect x="211.15" y="640.10" width="1.70" height="3.30" fill="#000" />
<rect x="219.95" y="640.10" width="1.70" height="3.30" fill="#000" />
<rect x="228.75" y="640.10" width="1.70" height="3.30" fill="#000" />
<rect x="237.55" y="640.10" width="1.70" height="5.00" fill="#000" />
<rect x="246.35" y="640.10" width="1.70" height="3.30" fill="#000" />
<rect x="255.15" y="640.10" width="1.70" height="3.30" fill="#000" />
<rect x="263.95" y="640.10" width="1.70" height="3.30" fill="#000" />
<rect x="272.75" y="640.10" width="1.70" height="3.30" fill="#000" />
<rect x="281.55" y="640.10" width="1.70" height="5.00" fill="#000" />
<text x="150.40" y="655.50" font-size="11.5" font-weight="bold" text-anchor="middle" fill="#000" textLength="8.20" lengthAdjust="spacingAndGlyphs" stroke="#000" stroke-width="0.3">0</text>
<text x="194.40" y="655.50" font-size="11.5" font-weight="bold" text-anchor="middle" fill="#000" textLength="24.60" lengthAdjust="spacingAndGlyphs" stroke="#000" stroke-width="0.3">300</text>
<text x="238.40" y="655.50" font-size="11.5" font-weight="bold" text-anchor="middle" fill="#000" textLength="24.60" lengthAdjust="spacingAndGlyphs" stroke="#000" stroke-width="0.3">600</text>
<text x="282.40" y="655.50" font-size="11.5" font-weight="bold" text-anchor="middle" fill="#000" textLength="24.60" lengthAdjust="spacingAndGlyphs" stroke="#000" stroke-width="0.3">900</text>
<rect x="150.30" y="541.90" width="15.10" height="1.90" fill="#c0c0c0" stroke="#2a2a2a" stroke-width="0.85"/>
<rect x="150.30" y="544.40" width="2.60" height="1.10" fill="#c0c0c0" stroke="#2a2a2a" stroke-width="0.85"/>
<rect x="150.30" y="546.30" width="15.10" height="1.90" fill="#c0c0c0" stroke="#2a2a2a" stroke-width="0.85"/>
<rect x="150.30" y="550.70" width="6.00" height="1.50" fill="#c0c0c0" stroke="#2a2a2a" stroke-width="0.85"/>
<rect x="150.30" y="575.10" width="10.70" height="1.90" fill="#c0c0c0" stroke="#2a2a2a" stroke-width="0.85"/>
<rect x="150.30" y="577.80" width="8.00" height="1.50" fill="#c0c0c0" stroke="#2a2a2a" stroke-width="0.85"/>
<rect x="150.30" y="581.40" width="6.70" height="1.40" fill="#c0c0c0" stroke="#2a2a2a" stroke-width="0.85"/>
<rect x="150.30" y="583.20" width="16.20" height="1.50" fill="#c0c0c0" stroke="#2a2a2a" stroke-width="0.85"/>
<rect x="150.30" y="585.50" width="108.55" height="1.70" fill="#c0c0c0" stroke="#2a2a2a" stroke-width="0.85"/>
<rect x="150.30" y="593.70" width="2.90" height="1.30" fill="#c0c0c0" stroke="#2a2a2a" stroke-width="0.85"/>
<rect x="150.30" y="595.80" width="11.40" height="1.50" fill="#c0c0c0" stroke="#2a2a2a" stroke-width="0.85"/>
<rect x="150.30" y="597.70" width="14.10" height="1.70" fill="#c0c0c0" stroke="#2a2a2a" stroke-width="0.85"/>
<rect x="150.30" y="602.20" width="2.90" height="1.50" fill="#c0c0c0" stroke="#2a2a2a" stroke-width="0.85"/>
<rect x="150.30" y="618.70" width="1.20" height="0.60" fill="#c0c0c0" stroke="#2a2a2a" stroke-width="0.85"/>
<rect x="150.30" y="630.60" width="117.70" height="2.40" fill="#c0c0c0" stroke="#2a2a2a" stroke-width="0.85"/>
<rect x="150.30" y="635.40" width="4.70" height="1.60" fill="#c0c0c0" stroke="#2a2a2a" stroke-width="0.85"/>
<rect x="150.30" y="637.40" width="6.70" height="1.20" fill="#c0c0c0" stroke="#2a2a2a" stroke-width="0.85"/>
<path d="M270.80 562.00H278.70V577.30H270.80" fill="none" stroke="#000" stroke-width="2.0" stroke-linejoin="miter"/>
<polygon points="271.50,566.85 272.23,568.86 274.64,568.85 272.69,570.09 273.44,572.10 271.50,570.85 269.56,572.10 270.31,570.09 268.36,568.85 270.77,568.86" fill="#000" stroke="#000" stroke-width="0.3"/>
<path d="M172.30 595.30H179.70V611.00H172.30" fill="none" stroke="#000" stroke-width="2.0" stroke-linejoin="miter"/>
<polygon points="173.20,600.45 173.93,602.46 176.34,602.45 174.39,603.69 175.14,605.70 173.20,604.45 171.26,605.70 172.01,603.69 170.06,602.45 172.47,602.46" fill="#000" stroke="#000" stroke-width="0.3"/>
<rect x="331.70" y="533.00" width="2.00" height="106.10" fill="#000" />
<rect x="331.70" y="637.10" width="136.50" height="2.00" fill="#000" />
<rect x="332.15" y="638.10" width="1.70" height="5.00" fill="#000" />
<rect x="338.86" y="638.10" width="1.70" height="3.30" fill="#000" />
<rect x="345.57" y="638.10" width="1.70" height="3.30" fill="#000" />
<rect x="352.28" y="638.10" width="1.70" height="3.30" fill="#000" />
<rect x="358.99" y="638.10" width="1.70" height="3.30" fill="#000" />
<rect x="365.70" y="638.10" width="1.70" height="5.00" fill="#000" />
<rect x="372.41" y="638.10" width="1.70" height="3.30" fill="#000" />
<rect x="379.12" y="638.10" width="1.70" height="3.30" fill="#000" />
<rect x="385.83" y="638.10" width="1.70" height="3.30" fill="#000" />
<rect x="392.54" y="638.10" width="1.70" height="3.30" fill="#000" />
<rect x="399.25" y="638.10" width="1.70" height="5.00" fill="#000" />
<rect x="405.96" y="638.10" width="1.70" height="3.30" fill="#000" />
<rect x="412.67" y="638.10" width="1.70" height="3.30" fill="#000" />
<rect x="419.38" y="638.10" width="1.70" height="3.30" fill="#000" />
<rect x="426.09" y="638.10" width="1.70" height="3.30" fill="#000" />
<rect x="432.80" y="638.10" width="1.70" height="5.00" fill="#000" />
<rect x="439.51" y="638.10" width="1.70" height="3.30" fill="#000" />
<rect x="446.22" y="638.10" width="1.70" height="3.30" fill="#000" />
<rect x="452.93" y="638.10" width="1.70" height="3.30" fill="#000" />
<rect x="459.64" y="638.10" width="1.70" height="3.30" fill="#000" />
<rect x="466.35" y="638.10" width="1.70" height="5.00" fill="#000" />
<text x="333.00" y="653.40" font-size="11.5" font-weight="bold" text-anchor="middle" fill="#000" textLength="7.80" lengthAdjust="spacingAndGlyphs" stroke="#000" stroke-width="0.3">0</text>
<text x="366.55" y="653.40" font-size="11.5" font-weight="bold" text-anchor="middle" fill="#000" textLength="23.40" lengthAdjust="spacingAndGlyphs" stroke="#000" stroke-width="0.3">300</text>
<text x="400.10" y="653.40" font-size="11.5" font-weight="bold" text-anchor="middle" fill="#000" textLength="23.40" lengthAdjust="spacingAndGlyphs" stroke="#000" stroke-width="0.3">600</text>
<text x="433.65" y="653.40" font-size="11.5" font-weight="bold" text-anchor="middle" fill="#000" textLength="23.40" lengthAdjust="spacingAndGlyphs" stroke="#000" stroke-width="0.3">900</text>
<text x="467.20" y="653.40" font-size="11.5" font-weight="bold" text-anchor="middle" fill="#000" textLength="31.20" lengthAdjust="spacingAndGlyphs" stroke="#000" stroke-width="0.3">1200</text>
<rect x="332.70" y="574.00" width="26.55" height="3.40" fill="#000" />
<rect x="332.70" y="576.70" width="112.80" height="3.60" fill="#000" />
<rect x="332.70" y="579.60" width="9.00" height="2.10" fill="#000" />
<rect x="332.70" y="582.80" width="56.05" height="2.70" fill="#000" />
<rect x="332.70" y="595.60" width="2.30" height="1.60" fill="#000" />
<rect x="332.70" y="612.80" width="2.30" height="1.60" fill="#000" />
<rect x="332.70" y="628.70" width="123.00" height="3.40" fill="#000" />
<rect x="332.70" y="634.80" width="47.30" height="2.70" fill="#000" />
<path d="M452.90 560.80H461.00V576.10H452.90" fill="none" stroke="#000" stroke-width="2.0" stroke-linejoin="miter"/>
<polygon points="455.10,566.25 455.83,568.26 458.24,568.25 456.29,569.49 457.04,571.50 455.10,570.25 453.16,571.50 453.91,569.49 451.96,568.25 454.37,568.26" fill="#000" stroke="#000" stroke-width="0.3"/>
<path d="M473.20 544.70H481.30V577.30H473.20" fill="none" stroke="#000" stroke-width="2.0" stroke-linejoin="miter"/>
<polygon points="474.30,561.15 475.03,563.16 477.44,563.15 475.49,564.39 476.24,566.40 474.30,565.15 472.36,566.40 473.11,564.39 471.16,563.15 473.57,563.16" fill="#000" stroke="#000" stroke-width="0.3"/>
<text x="315.00" y="686.60" font-size="17.5" font-weight="bold" text-anchor="middle" fill="#000" textLength="315.50" lengthAdjust="spacingAndGlyphs">Cytokine production (pg/mL)</text>
<text x="314.20" y="716.00" font-size="16.5" font-weight="bold" text-anchor="middle" fill="#000" textLength="347.00" lengthAdjust="spacingAndGlyphs">(1- Wildtype&#160;&#160;&#160;2 - CD1KO&#160;&#160;&#160;3 - J&#945;18KO)</text>
<rect x="166.60" y="783.20" width="2.40" height="194.40" fill="#000" />
<rect x="161.60" y="975.70" width="6.20" height="1.80" fill="#000" />
<rect x="164.60" y="968.20" width="3.20" height="1.40" fill="#000" />
<rect x="164.60" y="960.50" width="3.20" height="1.40" fill="#000" />
<rect x="164.60" y="952.80" width="3.20" height="1.40" fill="#000" />
<rect x="164.60" y="945.10" width="3.20" height="1.40" fill="#000" />
<rect x="161.60" y="937.20" width="6.20" height="1.80" fill="#000" />
<rect x="164.60" y="929.70" width="3.20" height="1.40" fill="#000" />
<rect x="164.60" y="922.00" width="3.20" height="1.40" fill="#000" />
<rect x="164.60" y="914.30" width="3.20" height="1.40" fill="#000" />
<rect x="164.60" y="906.60" width="3.20" height="1.40" fill="#000" />
<rect x="161.60" y="898.70" width="6.20" height="1.80" fill="#000" />
<rect x="164.60" y="891.20" width="3.20" height="1.40" fill="#000" />
<rect x="164.60" y="883.50" width="3.20" height="1.40" fill="#000" />
<rect x="164.60" y="875.80" width="3.20" height="1.40" fill="#000" />
<rect x="164.60" y="868.10" width="3.20" height="1.40" fill="#000" />
<rect x="161.60" y="860.20" width="6.20" height="1.80" fill="#000" />
<rect x="164.60" y="852.70" width="3.20" height="1.40" fill="#000" />
<rect x="164.60" y="845.00" width="3.20" height="1.40" fill="#000" />
<rect x="164.60" y="837.30" width="3.20" height="1.40" fill="#000" />
<rect x="164.60" y="829.60" width="3.20" height="1.40" fill="#000" />
<rect x="161.60" y="821.70" width="6.20" height="1.80" fill="#000" />
<rect x="164.60" y="814.20" width="3.20" height="1.40" fill="#000" />
<rect x="164.60" y="806.50" width="3.20" height="1.40" fill="#000" />
<rect x="164.60" y="798.80" width="3.20" height="1.40" fill="#000" />
<rect x="164.60" y="791.10" width="3.20" height="1.40" fill="#000" />
<rect x="161.60" y="783.20" width="6.20" height="1.80" fill="#000" />
<text x="161.60" y="981.50" font-size="13.2" font-weight="normal" text-anchor="end" fill="#000" textLength="9.15" lengthAdjust="spacingAndGlyphs" stroke="#000" stroke-width="0.25">0</text>
<text x="161.60" y="943.00" font-size="13.2" font-weight="normal" text-anchor="end" fill="#000" textLength="27.45" lengthAdjust="spacingAndGlyphs" stroke="#000" stroke-width="0.25">500</text>
<text x="161.60" y="904.50" font-size="13.2" font-weight="normal" text-anchor="end" fill="#000" textLength="36.60" lengthAdjust="spacingAndGlyphs" stroke="#000" stroke-width="0.25">1000</text>
<text x="161.60" y="866.00" font-size="13.2" font-weight="normal" text-anchor="end" fill="#000" textLength="36.60" lengthAdjust="spacingAndGlyphs" stroke="#000" stroke-width="0.25">1500</text>
<text x="161.60" y="827.50" font-size="13.2" font-weight="normal" text-anchor="end" fill="#000" textLength="36.60" lengthAdjust="spacingAndGlyphs" stroke="#000" stroke-width="0.25">2000</text>
<text x="161.60" y="789.00" font-size="13.2" font-weight="normal" text-anchor="end" fill="#000" textLength="36.60" lengthAdjust="spacingAndGlyphs" stroke="#000" stroke-width="0.25">2500</text>
<rect x="181.00" y="988.10" width="339.00" height="2.10" fill="#000" />
<rect x="186.08" y="989.50" width="1.40" height="2.50" fill="#000" />
<rect x="197.34" y="989.50" width="1.40" height="2.50" fill="#000" />
<rect x="208.40" y="989.50" width="1.80" height="4.10" fill="#000" />
<rect x="219.86" y="989.50" width="1.40" height="2.50" fill="#000" />
<rect x="231.12" y="989.50" width="1.40" height="2.50" fill="#000" />
<rect x="242.38" y="989.50" width="1.40" height="2.50" fill="#000" />
<rect x="253.64" y="989.50" width="1.40" height="2.50" fill="#000" />
<rect x="264.70" y="989.50" width="1.80" height="4.10" fill="#000" />
<rect x="276.16" y="989.50" width="1.40" height="2.50" fill="#000" />
<rect x="287.42" y="989.50" width="1.40" height="2.50" fill="#000" />
<rect x="298.68" y="989.50" width="1.40" height="2.50" fill="#000" />
<rect x="309.94" y="989.50" width="1.40" height="2.50" fill="#000" />
<rect x="321.00" y="989.50" width="1.80" height="4.10" fill="#000" />
<rect x="332.46" y="989.50" width="1.40" height="2.50" fill="#000" />
<rect x="343.72" y="989.50" width="1.40" height="2.50" fill="#000" />
<rect x="354.98" y="989.50" width="1.40" height="2.50" fill="#000" />
<rect x="366.24" y="989.50" width="1.40" height="2.50" fill="#000" />
<rect x="377.30" y="989.50" width="1.80" height="4.10" fill="#000" />
<rect x="388.76" y="989.50" width="1.40" height="2.50" fill="#000" />
<rect x="400.02" y="989.50" width="1.40" height="2.50" fill="#000" />
<rect x="411.28" y="989.50" width="1.40" height="2.50" fill="#000" />
<rect x="422.54" y="989.50" width="1.40" height="2.50" fill="#000" />
<rect x="433.60" y="989.50" width="1.80" height="4.10" fill="#000" />
<rect x="445.06" y="989.50" width="1.40" height="2.50" fill="#000" />
<rect x="456.32" y="989.50" width="1.40" height="2.50" fill="#000" />
<rect x="467.58" y="989.50" width="1.40" height="2.50" fill="#000" />
<rect x="478.84" y="989.50" width="1.40" height="2.50" fill="#000" />
<rect x="489.90" y="989.50" width="1.80" height="4.10" fill="#000" />
<rect x="501.36" y="989.50" width="1.40" height="2.50" fill="#000" />
<rect x="512.62" y="989.50" width="1.40" height="2.50" fill="#000" />
<text x="209.30" y="1009.90" font-size="13.5" font-weight="normal" text-anchor="middle" fill="#000" textLength="7.60" lengthAdjust="spacingAndGlyphs" stroke="#000" stroke-width="0.25">0</text>
<text x="265.60" y="1009.90" font-size="13.5" font-weight="normal" text-anchor="middle" fill="#000" textLength="17.60" lengthAdjust="spacingAndGlyphs" stroke="#000" stroke-width="0.25">10</text>
<text x="321.90" y="1011.90" font-size="13.5" font-weight="normal" text-anchor="middle" fill="#000" textLength="17.60" lengthAdjust="spacingAndGlyphs" stroke="#000" stroke-width="0.25">20</text>
<text x="378.20" y="1011.10" font-size="13.5" font-weight="normal" text-anchor="middle" fill="#000" textLength="17.60" lengthAdjust="spacingAndGlyphs" stroke="#000" stroke-width="0.25">30</text>
<text x="434.50" y="1009.90" font-size="13.5" font-weight="normal" text-anchor="middle" fill="#000" textLength="17.60" lengthAdjust="spacingAndGlyphs" stroke="#000" stroke-width="0.25">40</text>
<text x="490.80" y="1009.90" font-size="13.5" font-weight="normal" text-anchor="middle" fill="#000" textLength="17.60" lengthAdjust="spacingAndGlyphs" stroke="#000" stroke-width="0.25">50</text>
<text x="351.00" y="1028.60" font-size="15.5" font-weight="bold" text-anchor="middle" fill="#000" textLength="244.00" lengthAdjust="spacingAndGlyphs">Days after tumor inoculation</text>
<text x="111.50" y="936.00" font-size="18.5" font-weight="bold" text-anchor="start" fill="#000" textLength="42.50" lengthAdjust="spacing" transform="rotate(-90 111.50 936.00)">TGF&#946;</text>
<text x="111.50" y="877.20" font-size="18.5" font-weight="bold" text-anchor="start" fill="#000" textLength="65.00" lengthAdjust="spacing" transform="rotate(-90 111.50 877.20)">(pg/mL)</text>
<text x="241.70" y="768.30" font-size="15" font-weight="bold" text-anchor="middle" fill="#000" textLength="52.50" lengthAdjust="spacingAndGlyphs">NS0-V</text>
<text x="332.50" y="768.30" font-size="15" font-weight="bold" text-anchor="middle" fill="#000" textLength="76.50" lengthAdjust="spacingAndGlyphs">NS0-CD1</text>
<rect x="188.90" y="783.70" width="14.30" height="1.80" fill="#000" />
<rect x="191.50" y="780.90" width="9.20" height="7.40" fill="#000" stroke="#000" stroke-width="1.3"/>
<rect x="292.30" y="783.90" width="13.70" height="1.40" fill="#000" />
<rect x="294.70" y="781.00" width="9.00" height="7.20" fill="#d4d4d4" stroke="#000" stroke-width="1.1"/>
<text x="212.00" y="789.30" font-size="13" font-weight="normal" text-anchor="start" fill="#000" textLength="60.70" lengthAdjust="spacingAndGlyphs" stroke="#000" stroke-width="0.3">Wildtype</text>
<text x="314.80" y="789.30" font-size="13" font-weight="normal" text-anchor="start" fill="#000" textLength="60.70" lengthAdjust="spacingAndGlyphs" stroke="#000" stroke-width="0.3">Wildtype</text>
<rect x="188.90" y="805.30" width="14.30" height="1.80" fill="#000" />
<path d="M196.10 801.60L201.00 809.80H191.20Z" fill="#000" stroke="#000" stroke-width="1.3" stroke-linejoin="miter"/>
<rect x="292.30" y="805.50" width="13.70" height="1.40" fill="#000" />
<path d="M299.20 801.70L304.00 809.70H294.40Z" fill="#fff" stroke="#000" stroke-width="1.1" stroke-linejoin="miter"/>
<text x="212.00" y="810.90" font-size="13" font-weight="normal" text-anchor="start" fill="#000" textLength="52.20" lengthAdjust="spacingAndGlyphs" stroke="#000" stroke-width="0.3">CD1KO</text>
<text x="314.80" y="810.90" font-size="13" font-weight="normal" text-anchor="start" fill="#000" textLength="52.20" lengthAdjust="spacingAndGlyphs" stroke="#000" stroke-width="0.3">CD1KO</text>
<rect x="188.90" y="824.70" width="14.30" height="1.80" fill="#000" />
<ellipse cx="196.10" cy="825.60" rx="5.00" ry="3.90" fill="#000" stroke="#000" stroke-width="1.3"/>
<rect x="292.30" y="824.90" width="13.70" height="1.40" fill="#000" />
<ellipse cx="299.20" cy="825.60" rx="4.90" ry="3.80" fill="#d4d4d4" stroke="#000" stroke-width="1.1"/>
<text x="212.00" y="830.30" font-size="13" font-weight="normal" text-anchor="start" fill="#000" textLength="58.20" lengthAdjust="spacingAndGlyphs" stroke="#000" stroke-width="0.3">J&#945;18KO</text>
<text x="314.80" y="830.30" font-size="13" font-weight="normal" text-anchor="start" fill="#000" textLength="58.20" lengthAdjust="spacingAndGlyphs" stroke="#000" stroke-width="0.3">J&#945;18KO</text>
<rect x="208.30" y="905.20" width="2.00" height="56.80" fill="#000" />
<rect x="203.20" y="904.20" width="12.20" height="2.00" fill="#000" />
<rect x="203.20" y="915.20" width="12.20" height="2.00" fill="#000" />
<rect x="264.60" y="950.00" width="2.00" height="26.90" fill="#000" />
<rect x="259.50" y="973.60" width="12.20" height="2.00" fill="#000" />
<rect x="259.50" y="975.80" width="12.20" height="2.00" fill="#000" />
<rect x="320.90" y="863.80" width="2.00" height="124.70" fill="#000" />
<rect x="315.80" y="862.80" width="12.20" height="2.00" fill="#000" />
<rect x="315.80" y="901.70" width="12.20" height="2.00" fill="#000" />
<rect x="315.80" y="903.30" width="12.20" height="2.00" fill="#000" />
<rect x="315.80" y="951.10" width="12.20" height="2.00" fill="#000" />
<rect x="315.80" y="983.40" width="12.20" height="2.00" fill="#000" />
<rect x="377.20" y="863.80" width="2.00" height="124.70" fill="#000" />
<rect x="372.10" y="862.80" width="12.20" height="2.00" fill="#000" />
<rect x="372.10" y="899.80" width="12.20" height="2.00" fill="#000" />
<rect x="372.10" y="905.50" width="12.20" height="2.00" fill="#000" />
<rect x="372.10" y="923.50" width="12.20" height="2.00" fill="#000" />
<rect x="372.10" y="935.20" width="12.20" height="2.00" fill="#000" />
<rect x="372.10" y="936.80" width="12.20" height="2.00" fill="#000" />
<rect x="372.10" y="950.30" width="12.20" height="2.00" fill="#000" />
<rect x="372.10" y="985.80" width="12.20" height="2.00" fill="#000" />
<rect x="433.50" y="836.80" width="2.00" height="147.20" fill="#000" />
<rect x="428.40" y="835.80" width="12.20" height="2.00" fill="#000" />
<rect x="428.40" y="863.30" width="12.20" height="2.00" fill="#000" />
<rect x="428.40" y="892.30" width="12.20" height="2.00" fill="#000" />
<rect x="428.40" y="929.80" width="12.20" height="2.00" fill="#000" />
<rect x="428.40" y="977.40" width="12.20" height="2.00" fill="#000" />
<rect x="428.40" y="982.50" width="12.20" height="2.00" fill="#000" />
<rect x="489.80" y="805.20" width="2.00" height="34.00" fill="#000" />
<rect x="489.80" y="916.00" width="2.00" height="63.30" fill="#000" />
<rect x="484.70" y="803.80" width="12.20" height="2.00" fill="#000" />
<rect x="484.70" y="804.80" width="12.20" height="2.00" fill="#000" />
<rect x="484.70" y="829.60" width="12.20" height="2.00" fill="#000" />
<rect x="484.70" y="838.20" width="12.20" height="2.00" fill="#000" />
<rect x="484.70" y="933.60" width="12.20" height="2.00" fill="#000" />
<rect x="484.70" y="935.80" width="12.20" height="2.00" fill="#000" />
<rect x="484.70" y="978.30" width="12.20" height="2.00" fill="#000" />
<polyline points="209.30,930.00 265.60,960.00 321.90,971.00 378.20,959.50 434.50,966.50 490.80,957.50" fill="none" stroke="#000" stroke-width="1.4" stroke-linejoin="round"/>
<polyline points="209.30,960.00 265.60,968.30 321.90,959.60 378.20,943.50 434.50,957.40 490.80,929.30" fill="none" stroke="#000" stroke-width="1.4" stroke-linejoin="round"/>
<polyline points="209.30,931.00 265.60,961.00 321.90,927.30 378.20,882.30 434.50,864.30 490.80,821.00" fill="none" stroke="#000" stroke-width="1.4" stroke-linejoin="round"/>
<polyline points="209.30,926.70 265.60,959.50 321.90,971.00 378.20,957.30 434.50,965.00 490.80,918.00" fill="none" stroke="#000" stroke-width="1.4" stroke-linejoin="round"/>
<polyline points="209.30,960.30 265.60,954.60 321.90,974.60 378.20,969.50 434.50,946.50 490.80,929.00" fill="none" stroke="#000" stroke-width="1.4" stroke-linejoin="round"/>
<polyline points="209.30,931.50 265.60,961.50 321.90,883.90 378.20,916.50 434.50,905.30 490.80,818.20" fill="none" stroke="#000" stroke-width="1.4" stroke-linejoin="round"/>
<path d="M209.30 925.30L214.00 933.70H204.60Z" fill="#f4f4f4" stroke="#000" stroke-width="1.1" stroke-linejoin="miter"/>
<path d="M265.60 955.30L270.30 963.70H260.90Z" fill="#f4f4f4" stroke="#000" stroke-width="1.1" stroke-linejoin="miter"/>
<path d="M321.90 966.30L326.60 974.70H317.20Z" fill="#f4f4f4" stroke="#000" stroke-width="1.1" stroke-linejoin="miter"/>
<path d="M378.20 954.80L382.90 963.20H373.50Z" fill="#f4f4f4" stroke="#000" stroke-width="1.1" stroke-linejoin="miter"/>
<path d="M434.50 961.80L439.20 970.20H429.80Z" fill="#f4f4f4" stroke="#000" stroke-width="1.1" stroke-linejoin="miter"/>
<path d="M490.80 952.80L495.50 961.20H486.10Z" fill="#f4f4f4" stroke="#000" stroke-width="1.1" stroke-linejoin="miter"/>
<rect x="204.40" y="955.90" width="9.80" height="8.20" fill="#d4d4d4" stroke="#000" stroke-width="1.3"/>
<rect x="260.70" y="964.20" width="9.80" height="8.20" fill="#d4d4d4" stroke="#000" stroke-width="1.3"/>
<rect x="317.00" y="955.50" width="9.80" height="8.20" fill="#d4d4d4" stroke="#000" stroke-width="1.3"/>
<rect x="373.30" y="939.40" width="9.80" height="8.20" fill="#d4d4d4" stroke="#000" stroke-width="1.3"/>
<rect x="429.60" y="953.30" width="9.80" height="8.20" fill="#d4d4d4" stroke="#000" stroke-width="1.3"/>
<rect x="485.90" y="925.20" width="9.80" height="8.20" fill="#d4d4d4" stroke="#000" stroke-width="1.3"/>
<ellipse cx="209.30" cy="931.00" rx="5.30" ry="4.30" fill="#d4d4d4" stroke="#000" stroke-width="1.3"/>
<ellipse cx="265.60" cy="961.00" rx="5.30" ry="4.30" fill="#d4d4d4" stroke="#000" stroke-width="1.3"/>
<ellipse cx="321.90" cy="927.30" rx="5.30" ry="4.30" fill="#d4d4d4" stroke="#000" stroke-width="1.3"/>
<ellipse cx="378.20" cy="882.30" rx="5.30" ry="4.30" fill="#d4d4d4" stroke="#000" stroke-width="1.3"/>
<ellipse cx="434.50" cy="864.30" rx="5.30" ry="4.30" fill="#d4d4d4" stroke="#000" stroke-width="1.3"/>
<ellipse cx="490.80" cy="821.00" rx="5.30" ry="4.30" fill="#d4d4d4" stroke="#000" stroke-width="1.3"/>
<ellipse cx="209.30" cy="931.50" rx="5.30" ry="4.30" fill="#000" stroke="#000" stroke-width="1.3"/>
<ellipse cx="265.60" cy="961.50" rx="5.30" ry="4.30" fill="#000" stroke="#000" stroke-width="1.3"/>
<ellipse cx="321.90" cy="883.90" rx="5.30" ry="4.30" fill="#000" stroke="#000" stroke-width="1.3"/>
<ellipse cx="378.20" cy="916.50" rx="5.30" ry="4.30" fill="#000" stroke="#000" stroke-width="1.3"/>
<ellipse cx="434.50" cy="905.30" rx="5.30" ry="4.30" fill="#000" stroke="#000" stroke-width="1.3"/>
<ellipse cx="490.80" cy="818.20" rx="5.30" ry="4.30" fill="#000" stroke="#000" stroke-width="1.3"/>
<rect x="204.40" y="956.20" width="9.80" height="8.20" fill="#000" stroke="#000" stroke-width="1.3"/>
<rect x="260.70" y="950.50" width="9.80" height="8.20" fill="#000" stroke="#000" stroke-width="1.3"/>
<rect x="317.00" y="970.50" width="9.80" height="8.20" fill="#000" stroke="#000" stroke-width="1.3"/>
<rect x="373.30" y="965.40" width="9.80" height="8.20" fill="#000" stroke="#000" stroke-width="1.3"/>
<rect x="429.60" y="942.40" width="9.80" height="8.20" fill="#000" stroke="#000" stroke-width="1.3"/>
<rect x="485.90" y="924.90" width="9.80" height="8.20" fill="#000" stroke="#000" stroke-width="1.3"/>
<path d="M209.30 921.70L214.50 930.70H204.10Z" fill="#000" stroke="#000" stroke-width="1.3" stroke-linejoin="miter"/>
<path d="M265.60 954.50L270.80 963.50H260.40Z" fill="#000" stroke="#000" stroke-width="1.3" stroke-linejoin="miter"/>
<path d="M321.90 966.00L327.10 975.00H316.70Z" fill="#000" stroke="#000" stroke-width="1.3" stroke-linejoin="miter"/>
<path d="M378.20 952.30L383.40 961.30H373.00Z" fill="#000" stroke="#000" stroke-width="1.3" stroke-linejoin="miter"/>
<path d="M434.50 960.00L439.70 969.00H429.30Z" fill="#000" stroke="#000" stroke-width="1.3" stroke-linejoin="miter"/>
<path d="M490.80 913.00L496.00 922.00H485.60Z" fill="#000" stroke="#000" stroke-width="1.3" stroke-linejoin="miter"/>
<rect x="429.50" y="863.70" width="10.00" height="1.30" fill="#000" />
</svg></body></html>
